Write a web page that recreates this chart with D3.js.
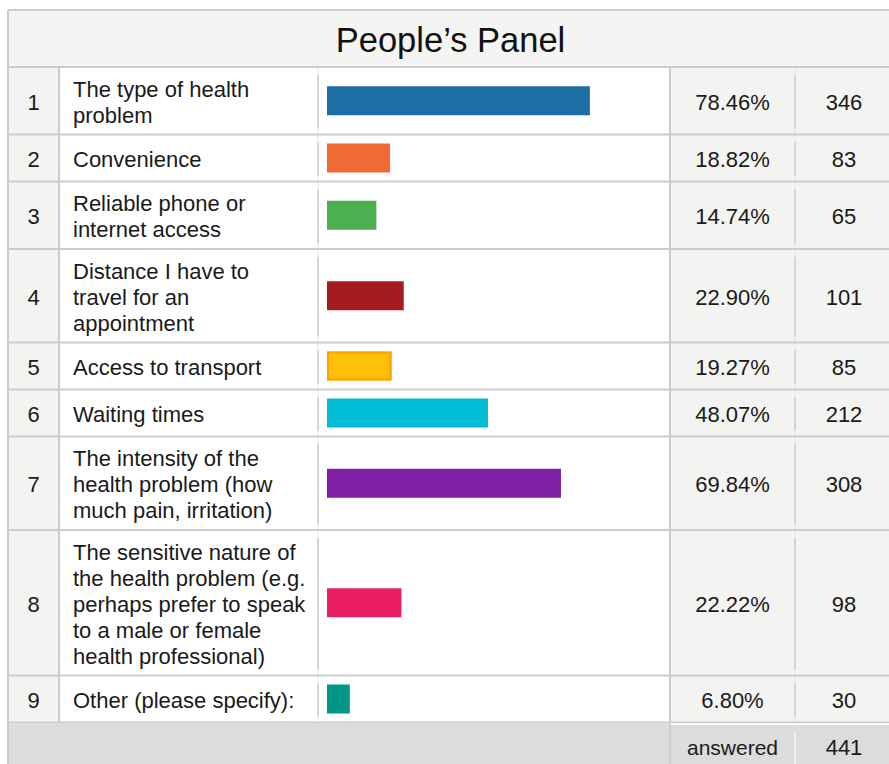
<!DOCTYPE html>
<html>
<head>
<meta charset="utf-8">
<script src="https://cdn.jsdelivr.net/npm/d3@7"></script>
<style>
  html, body { margin: 0; padding: 0; background: #ffffff; overflow: hidden; }
  svg { display: block; font-family: "Liberation Sans", Arial, sans-serif; }
</style>
</head>
<body>
<svg id="chart" width="889" height="764"></svg>
<script>
// Survey results: one row per answer choice
const title = "People\u2019s Panel";
const ranks = [1, 2, 3, 4, 5, 6, 7, 8, 9];
const categories = [
  ["The type of health", "problem"],
  ["Convenience"],
  ["Reliable phone or", "internet access"],
  ["Distance I have to", "travel for an", "appointment"],
  ["Access to transport"],
  ["Waiting times"],
  ["The intensity of the", "health problem (how", "much pain, irritation)"],
  ["The sensitive nature of", "the health problem (e.g.", "perhaps prefer to speak", "to a male or female", "health professional)"],
  ["Other (please specify):"]
];
const percents = [78.46, 18.82, 14.74, 22.90, 19.27, 48.07, 69.84, 22.22, 6.80];
const counts = [346, 83, 65, 101, 85, 212, 308, 98, 30];
const answeredLabel = "answered";
const answeredTotal = 441;

const barColors = ["#1d6ea5", "#f26a33", "#4caf50", "#a41c1f", "#ffc107", "#00bcd4", "#7e1fa6", "#e91e63", "#009688"];
const barStrokes = [null, null, null, null, "#ff9f00", null, null, null, null];

// Layout
const svg = d3.select("#chart");
const tableLeft = 8, tableRight = 894, tableTop = 10, titleBottom = 67;
const colNum = [tableLeft, 59];
const colLabel = [59, 318];
const colBar = [318, 670];
const colPct = [670, 795];
const colCnt = [795, tableRight];
const lineH = 26, rowPad = 15.5, rowMin = 47;
const fontSize = 22;
const gridColor = "#cccccc";
const cellGray = "#f3f3f1";

const rowHeights = categories.map(lines => Math.max(lines.length * lineH + rowPad, rowMin));
const rowTops = [];
rowHeights.reduce((acc, h) => { rowTops.push(acc); return acc + h; }, titleBottom);
const footerTop = titleBottom + d3.sum(rowHeights);
const footerH = 47;

const x = d3.scaleLinear().domain([0, 100]).range([327, 327 + 335]);
const barH = 29;

// Title row
svg.append("rect").attr("x", tableLeft).attr("y", tableTop)
  .attr("width", tableRight - tableLeft).attr("height", titleBottom - tableTop)
  .attr("fill", "#f4f4f2");
svg.append("text")
  .attr("x", (tableLeft + tableRight) / 2 - 0.5).attr("y", 52)
  .attr("text-anchor", "middle").attr("font-size", 34.5).attr("fill", "#111")
  .text(title);

// Body rows
const rows = svg.append("g").selectAll("g").data(ranks).join("g")
  .attr("transform", (d, i) => `translate(0,${rowTops[i]})`);

rows.append("rect").attr("x", colNum[0]).attr("width", colNum[1] - colNum[0])
  .attr("height", (d, i) => rowHeights[i]).attr("fill", cellGray);
rows.append("rect").attr("x", colLabel[0]).attr("width", colBar[1] - colLabel[0])
  .attr("height", (d, i) => rowHeights[i]).attr("fill", "#ffffff");
rows.append("rect").attr("x", colPct[0]).attr("width", colCnt[1] - colPct[0])
  .attr("height", (d, i) => rowHeights[i]).attr("fill", cellGray);

const textMid = (d, i) => rowHeights[i] / 2 + 1;

// rank numbers
rows.append("text")
  .attr("x", (colNum[0] + colNum[1]) / 2)
  .attr("y", textMid)
  .attr("dy", "0.36em").attr("text-anchor", "middle")
  .attr("font-size", fontSize).attr("fill", "#1a1a1a")
  .text(d => d);

// wrapped category labels
rows.append("text")
  .attr("font-size", fontSize).attr("fill", "#1a1a1a")
  .each(function (d, i) {
    const lines = categories[i];
    const mid = rowHeights[i] / 2 + 1;
    const first = mid - (lines.length - 1) * lineH / 2;
    d3.select(this).selectAll("tspan").data(lines).join("tspan")
      .attr("x", 73)
      .attr("y", (l, j) => first + j * lineH)
      .attr("dy", "0.36em")
      .text(l => l);
  });

// bars
rows.append("rect")
  .attr("x", x(0))
  .attr("y", (d, i) => rowHeights[i] / 2 - barH / 2)
  .attr("width", (d, i) => x(percents[i]) - x(0))
  .attr("height", barH)
  .attr("fill", (d, i) => barColors[i]);
rows.filter((d, i) => barStrokes[i]).append("rect")
  .attr("x", (d) => x(0) + 1)
  .attr("y", (d) => rowHeights[d - 1] / 2 - barH / 2 + 1)
  .attr("width", (d) => x(percents[d - 1]) - x(0) - 2)
  .attr("height", barH - 2)
  .attr("fill", "none")
  .attr("stroke", d => barStrokes[d - 1]).attr("stroke-width", 2);

// percentages and counts
rows.append("text")
  .attr("x", (colPct[0] + colPct[1]) / 2)
  .attr("y", textMid)
  .attr("dy", "0.36em").attr("text-anchor", "middle")
  .attr("font-size", fontSize).attr("fill", "#1a1a1a")
  .text((d, i) => percents[i].toFixed(2) + "%");
rows.append("text")
  .attr("x", (colCnt[0] + colCnt[1]) / 2 - 0.5)
  .attr("y", textMid)
  .attr("dy", "0.36em").attr("text-anchor", "middle")
  .attr("font-size", fontSize).attr("fill", "#1a1a1a")
  .text((d, i) => counts[i]);

// inner vertical separators (full faint line plus inset darker segment)
[colBar[0], colCnt[0]].forEach(cx => {
  rows.append("line").attr("x1", cx).attr("x2", cx).attr("y1", 0)
    .attr("y2", (d, i) => rowHeights[i]).attr("stroke", "#e4e4e4").attr("stroke-width", 1);
  rows.append("line").attr("x1", cx).attr("x2", cx).attr("y1", 8)
    .attr("y2", (d, i) => rowHeights[i] - 6).attr("stroke", gridColor).attr("stroke-width", 1.5);
});
[colLabel[0], colPct[0]].forEach(cx => {
  rows.append("line").attr("x1", cx).attr("x2", cx).attr("y1", 0)
    .attr("y2", (d, i) => rowHeights[i]).attr("stroke", gridColor).attr("stroke-width", 2);
});

// row dividers
svg.append("g").selectAll("line").data([titleBottom, ...rowTops.slice(1), footerTop]).join("line")
  .attr("x1", tableLeft).attr("x2", tableRight)
  .attr("y1", d => d).attr("y2", d => d)
  .attr("stroke", gridColor).attr("stroke-width", 2);

// footer row
const fy = footerTop + 1;
svg.append("rect").attr("x", tableLeft).attr("y", fy)
  .attr("width", tableRight - tableLeft).attr("height", footerH)
  .attr("fill", "#dcdcdc");
svg.append("line").attr("x1", colPct[0] + 1).attr("x2", tableRight)
  .attr("y1", fy + 0.5).attr("y2", fy + 0.5).attr("stroke", "#ffffff").attr("stroke-width", 1.5);
svg.append("line").attr("x1", colCnt[0]).attr("x2", colCnt[0])
  .attr("y1", fy + 8).attr("y2", fy + footerH).attr("stroke", "#f4f4f4").attr("stroke-width", 1.5);
svg.append("line").attr("x1", colPct[0]).attr("x2", colPct[0])
  .attr("y1", fy).attr("y2", fy + footerH).attr("stroke", gridColor).attr("stroke-width", 2);
svg.append("text")
  .attr("x", (colPct[0] + colPct[1]) / 2).attr("y", fy + 24)
  .attr("dy", "0.36em").attr("text-anchor", "middle")
  .attr("font-size", 21).attr("fill", "#1a1a1a").text(answeredLabel);
svg.append("text")
  .attr("x", (colCnt[0] + colCnt[1]) / 2 - 0.5).attr("y", fy + 24)
  .attr("dy", "0.36em").attr("text-anchor", "middle")
  .attr("font-size", fontSize).attr("fill", "#1a1a1a").text(answeredTotal);

// outer border (left and top)
svg.append("line").attr("x1", tableLeft).attr("x2", tableLeft)
  .attr("y1", tableTop).attr("y2", 764).attr("stroke", gridColor).attr("stroke-width", 2);
svg.append("line").attr("x1", tableLeft).attr("x2", tableRight)
  .attr("y1", tableTop).attr("y2", tableTop).attr("stroke", gridColor).attr("stroke-width", 2);
</script>
</body>
</html>
